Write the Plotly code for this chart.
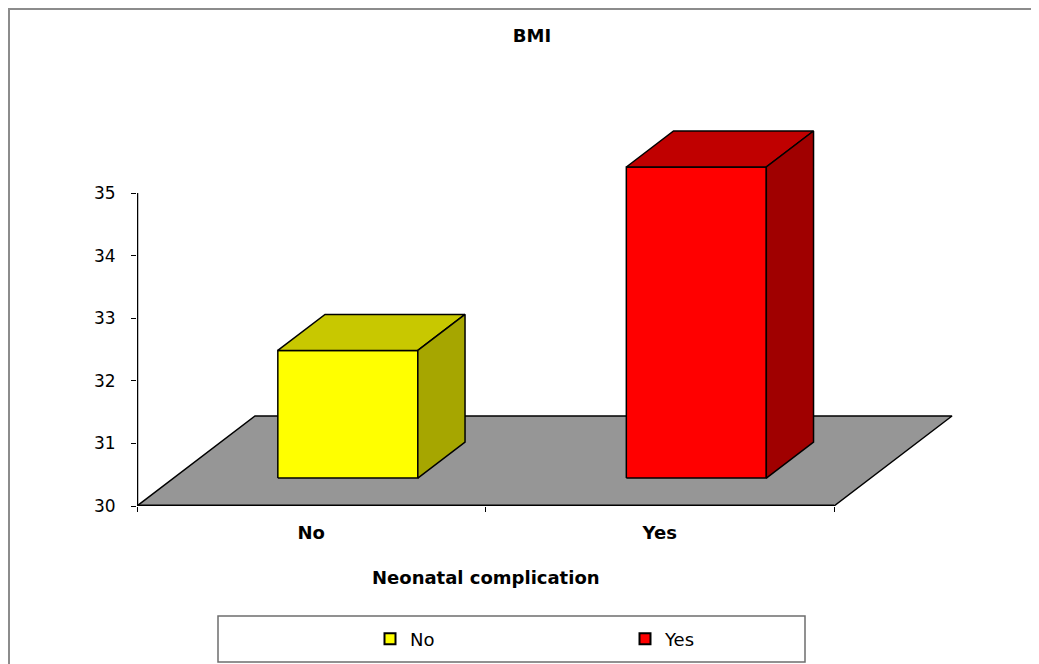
import plotly.graph_objects as go

# values
categories = ["No", "Yes"]
bmi = [32.04, 34.97]
y_ticks = [30, 31, 32, 33, 34, 35]

front_colors = ["#FFFF00", "#FF0000"]
top_colors = ["#C8C800", "#C00000"]
side_colors = ["#A6A600", "#A00000"]

# the page puts the plot 8px in from the top left corner
OFF = 8
FW, FH = 1039 - OFF, 664 - OFF


def fx(px):
    return (px - OFF) / FW


def fy(py):
    return 1 - (py - OFF) / FH


# plot area in screen pixels and axis scales
left, right, top, bottom = 137, 990, 100, 506
px_x = 348.5   # px per category
px_y = 62.6    # px per BMI unit
x_range = [-0.5, -0.5 + (right - left) / px_x]
y_range = [30, 30 + (bottom - top) / px_y]

# oblique depth of the floor, converted to data units
ddx = 118 / px_x
ddy = 90 / px_y
bar_w = 140 / px_x
d_front, d_back = 0.31, 0.71
base = 30


def proj(pts):
    pts = pts + [pts[0]]
    xs = [p[0] + p[2] * ddx for p in pts]
    ys = [p[1] + p[2] * ddy for p in pts]
    return xs, ys


def face(pts, color):
    xs, ys = proj(pts)
    return go.Scatter(x=xs, y=ys, mode="lines", fill="toself", fillcolor=color,
                      line=dict(color="black", width=1.5), showlegend=False,
                      hoverinfo="skip")


fig = go.Figure()

# floor
x_lo, x_hi = -0.5, len(categories) - 0.5
fig.add_trace(face([(x_lo, base, 0), (x_hi, base, 0), (x_hi, base, 1), (x_lo, base, 1)],
                   "#969696"))

# bars: front, top and right side faces
for i, v in enumerate(bmi):
    x0, x1 = i - bar_w / 2, i + bar_w / 2
    fig.add_trace(face([(x0, base, d_front), (x1, base, d_front), (x1, v, d_front), (x0, v, d_front)],
                       front_colors[i]))
    fig.add_trace(face([(x0, v, d_front), (x1, v, d_front), (x1, v, d_back), (x0, v, d_back)],
                       top_colors[i]))
    fig.add_trace(face([(x1, base, d_front), (x1, base, d_back), (x1, v, d_back), (x1, v, d_front)],
                       side_colors[i]))

# legend entries
for cat, col in zip(categories, front_colors):
    fig.add_trace(go.Scatter(x=[None], y=[None], mode="markers", name=cat,
                             marker=dict(symbol="square", size=11, color=col,
                                         line=dict(color="black", width=2))))

font = "DejaVu Sans, Arial, sans-serif"

fig.update_layout(
    width=FW, height=FH, template="none",
    margin=dict(l=0, r=0, t=0, b=0),
    paper_bgcolor="white", plot_bgcolor="rgba(0,0,0,0)",
    font=dict(family=font, color="black"),
    title=dict(text="<b>BMI</b>", x=fx(532), xref="container", xanchor="center",
               y=fy(36), yref="container", yanchor="middle",
               font=dict(size=18, family=font)),
    xaxis=dict(domain=[fx(left), fx(right)], range=x_range, tickvals=[0, 1],
               ticktext=categories, ticks="", showgrid=False, zeroline=False,
               showline=False, automargin=False, ticklabelstandoff=14,
               tickfont=dict(size=18, weight="bold"),
               minor=dict(tickvals=[-0.5, 0.5, 1.5], ticks="outside", ticklen=5,
                          tickwidth=1, tickcolor="black", showgrid=False)),
    yaxis=dict(domain=[fy(bottom), fy(top)], range=y_range, tickvals=y_ticks,
               ticks="outside", ticklen=5, tickwidth=1, tickcolor="black",
               showgrid=False, zeroline=False, showline=False, automargin=False,
               ticklabelstandoff=12, tickfont=dict(size=17)),
    legend=dict(orientation="h", x=fx(370), xanchor="left", y=fy(639),
                yanchor="middle", entrywidth=210, entrywidthmode="pixels",
                bgcolor="rgba(0,0,0,0)", borderwidth=0, font=dict(size=18)),
    annotations=[dict(text="<b>Neonatal complication</b>", x=fx(485.5), y=fy(577.5),
                      xref="paper", yref="paper", xanchor="center", yanchor="middle",
                      showarrow=False, font=dict(size=18, family=font))],
    shapes=[
        # value axis line (30-35) and category axis line
        dict(type="line", xref="x", yref="y", x0=x_lo, x1=x_lo, y0=y_ticks[0], y1=y_ticks[-1],
             line=dict(color="black", width=2.5)),
        dict(type="line", xref="x", yref="y", x0=x_lo, x1=x_hi, y0=base, y1=base,
             line=dict(color="black", width=3)),
        # legend box
        dict(type="rect", xref="paper", yref="paper", x0=fx(218), x1=fx(805),
             y0=fy(662), y1=fy(616), line=dict(color="#6E6E6E", width=1.5)),
        # chart border
        dict(type="rect", xref="paper", yref="paper", x0=1 / FW, x1=1.02,
             y0=-0.02, y1=1 - 1 / FH, line=dict(color="#8C8C8C", width=2)),
    ],
)

fig.write_html("out.html")
